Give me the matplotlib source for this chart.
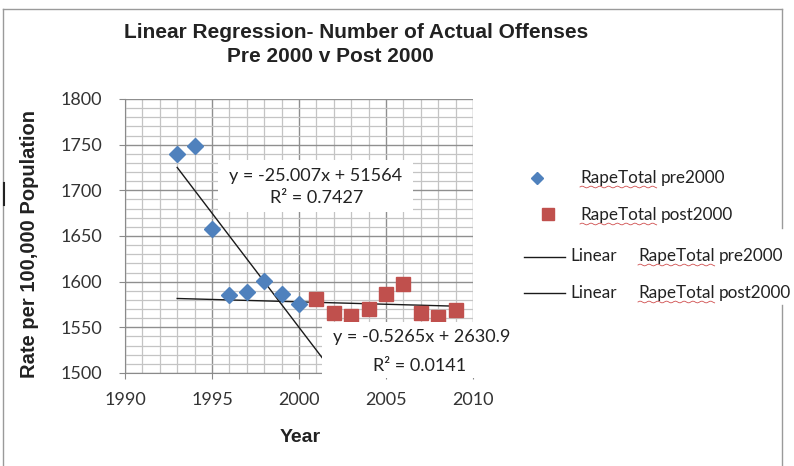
import matplotlib
matplotlib.use("Agg")
import matplotlib.pyplot as plt
from matplotlib.lines import Line2D
from matplotlib.ticker import MultipleLocator
import numpy as np

# data
years_pre = [1993, 1994, 1995, 1996, 1997, 1998, 1999, 2000]
rate_pre = [1740, 1748, 1658, 1585, 1589, 1601, 1587, 1576]
years_post = [2001, 2002, 2003, 2004, 2005, 2006, 2007, 2008, 2009]
rate_post = [1581, 1566, 1562, 1570, 1587, 1597, 1566, 1561, 1569]

# trendline coefficients shown on the chart
slope_pre, icpt_pre = -25.007, 51564
slope_post, icpt_post = -0.5265, 2630.9
r2_pre, r2_post = 0.7427, 0.0141
trend_pre_x = [1993, 2002]
trend_post_x = [1993, 2009]

legend_labels = ["RapeTotal pre2000", "RapeTotal post2000",
                 "RapeTotal pre2000", "RapeTotal post2000"]

W, H = 794, 466
BLUE = "#4F81BD"
RED = "#C0504D"
TICKFONT = ["Lato", "DejaVu Sans"]
BOLDFONT = ["Liberation Sans", "DejaVu Sans"]


def fx(px):
    return px / W


def fy(py):
    return 1 - py / H


fig = plt.figure(figsize=(W / 100, H / 100), dpi=100)
fig.patch.set_facecolor("white")

ax = fig.add_axes([fx(125), fy(373), (473 - 125) / W, (373 - 99) / H])
ax.set_xlim(1990, 2010)
ax.set_ylim(1500, 1800)
ax.xaxis.set_major_locator(MultipleLocator(5))
ax.xaxis.set_minor_locator(MultipleLocator(1))
ax.yaxis.set_major_locator(MultipleLocator(50))
ax.yaxis.set_minor_locator(MultipleLocator(10))
ax.grid(which="major", color="#8f8f8f", lw=1.0)
ax.grid(which="minor", color="#c4c4c4", lw=0.9)
ax.set_axisbelow(True)
for side in ["top", "right"]:
    ax.spines[side].set_visible(False)
for side in ["left", "bottom"]:
    ax.spines[side].set_color("#8a8a8a")
ax.tick_params(which="major", length=4.5, color="#8a8a8a", labelsize=13,
               labelcolor="#333333")
ax.tick_params(which="minor", length=0)
for lab in ax.get_xticklabels() + ax.get_yticklabels():
    lab.set_family(TICKFONT)
ax.tick_params(axis="x", pad=9)
ax.tick_params(axis="y", pad=12)

# trendlines
tx = np.array(trend_pre_x)
ax.plot(tx, slope_pre * tx + icpt_pre, color="#1a1a1a", lw=1.0, zorder=3,
        clip_on=False)
tx2 = np.array(trend_post_x)
ax.plot(tx2, slope_post * tx2 + icpt_post, color="#1a1a1a", lw=1.0, zorder=3)

# scatter points
ax.plot(years_pre, rate_pre, linestyle="none", marker="D", ms=8.5,
        color=BLUE, mec=BLUE, zorder=4)
ax.plot(years_post, rate_post, linestyle="none", marker="s", ms=9.5,
        color=RED, mec=RED, zorder=4)

# trendline labels with white boxes
box1 = plt.Rectangle((fx(218), fy(212)), (413 - 218) / W, (212 - 160) / H,
                     transform=fig.transFigure, facecolor="white",
                     edgecolor="none", zorder=5)
fig.add_artist(box1)
box2 = plt.Rectangle((fx(322), fy(378)), (516 - 322) / W, (378 - 322) / H,
                     transform=fig.transFigure, facecolor="white",
                     edgecolor="none", zorder=5)
fig.add_artist(box2)
lbl_kw = dict(ha="center", va="center", fontsize=13, family=TICKFONT,
              color="#222222", zorder=6)
fig.text(fx(316), fy(176), "y = %.3fx + %d" % (slope_pre, icpt_pre), **lbl_kw)
fig.text(fx(317), fy(198), "R\u00b2 = %.4f" % r2_pre, **lbl_kw)
fig.text(fx(422), fy(337), "y = %.4fx + %.1f" % (slope_post, icpt_post),
         **lbl_kw)
fig.text(fx(420), fy(366), "R\u00b2 = %.4f" % r2_post, **lbl_kw)

# titles and axis labels
fig.text(fx(356), fy(32), "Linear Regression- Number of Actual Offenses",
         ha="center", va="center", fontsize=15, fontweight="bold",
         family=BOLDFONT, color="#222222")
fig.text(fx(330), fy(57), "Pre 2000 v Post 2000", ha="center", va="center",
         fontsize=15, fontweight="bold", family=BOLDFONT, color="#222222")
fig.text(fx(30), fy(244), "Rate per 100,000 Population", rotation=90,
         ha="center", va="center", fontsize=14.5, fontweight="bold",
         family=BOLDFONT, color="#222222")
fig.text(fx(300), fy(437), "Year", ha="center", va="center", fontsize=14,
         fontweight="bold", family=BOLDFONT, color="#222222")

# chart frame
frame_kw = dict(transform=fig.transFigure, color="#9a9a9a", lw=1.0)
fig.add_artist(Line2D([fx(3), fx(3)], [fy(9), fy(466)], **frame_kw))
fig.add_artist(Line2D([fx(3), fx(782)], [fy(9), fy(9)], **frame_kw))
fig.add_artist(Line2D([fx(782), fx(782)], [fy(9), fy(228)], **frame_kw))
fig.add_artist(Line2D([fx(782), fx(782)], [fy(305), fy(466)], **frame_kw))
fig.add_artist(Line2D([fx(4), fx(4)], [fy(183), fy(205)],
                      transform=fig.transFigure, color="#222222", lw=1.5))

# legend drawn by hand
fig.add_artist(Line2D([fx(537)], [fy(178)], marker="D", ms=6.5, color=BLUE,
                      transform=fig.transFigure, linestyle="none"))
fig.add_artist(Line2D([fx(548)], [fy(214)], marker="s", ms=8, color=RED,
                      transform=fig.transFigure, linestyle="none"))
fig.add_artist(Line2D([fx(524), fx(565)], [fy(257), fy(257)], color="#1a1a1a",
                      lw=1.0, transform=fig.transFigure))
fig.add_artist(Line2D([fx(524), fx(565)], [fy(293), fy(293)], color="#1a1a1a",
                      lw=1.0, transform=fig.transFigure))

LEGSIZE = 12.3
leg_pos = [(580, 178), (580, 215), (638, 256), (638, 293)]
words = []
for (px, py), lab in zip(leg_pos, legend_labels):
    first, rest = lab.split(" ", 1)
    t1 = fig.text(fx(px), fy(py), first, ha="left", va="center",
                  fontsize=LEGSIZE, family=TICKFONT, color="#222222")
    words.append((t1, rest, py))
fig.text(fx(570), fy(256), "Linear", ha="left", va="center", fontsize=LEGSIZE,
         family=TICKFONT, color="#222222")
fig.text(fx(570), fy(293), "Linear", ha="left", va="center", fontsize=LEGSIZE,
         family=TICKFONT, color="#222222")

fig.canvas.draw()
rend = fig.canvas.get_renderer()
for t1, rest, py in words:
    bb = t1.get_window_extent(rend)
    fig.text(fx(bb.x1 + 4), fy(py), rest, ha="left", va="center",
             fontsize=LEGSIZE, family=TICKFONT, color="#222222")
    # spell-check squiggle under the first word
    sx = np.linspace(bb.x0, bb.x1, 50)
    sy = bb.y0 - 1.0 + 0.9 * np.sin((sx - bb.x0) / 1.4)
    fig.add_artist(Line2D(sx / W, sy / H, color="#d05050", lw=0.6,
                          transform=fig.transFigure))

fig.savefig("out.png", dpi=100)
